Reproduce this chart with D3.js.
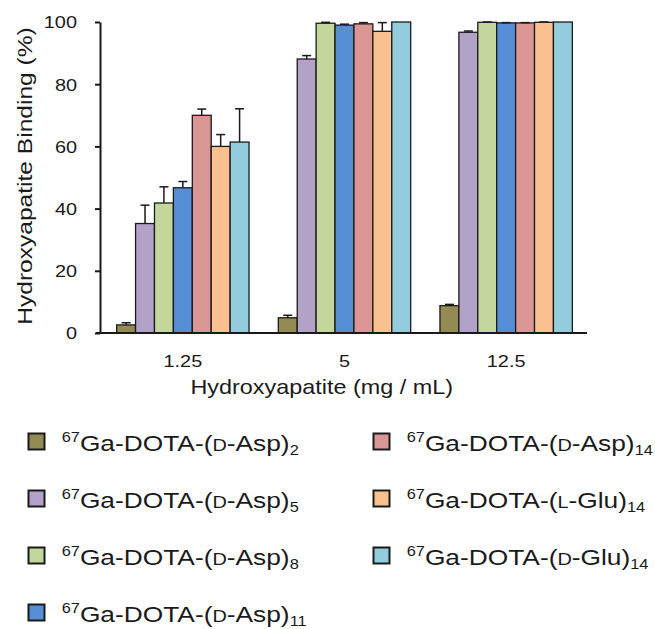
<!DOCTYPE html>
<html>
<head>
<meta charset="utf-8">
<script src="https://cdn.jsdelivr.net/npm/d3@7/dist/d3.min.js"></script>
<style>
  html, body { margin: 0; padding: 0; background: #fff; }
  svg { display: block; font-family: "Liberation Sans", Arial, sans-serif; }
</style>
</head>
<body>
<svg id="chart" width="655" height="629"></svg>
<script>
// ---- data ----
const categories = ["1.25", "5", "12.5"];
const seriesChirality = ["D", "D", "D", "D", "D", "L", "D"];
const seriesResidue = ["Asp", "Asp", "Asp", "Asp", "Asp", "Glu", "Glu"];
const seriesCount = ["2", "5", "8", "11", "14", "14", "14"];
const seriesColors = ["#948A54", "#B3A2C7", "#C3D69B", "#558ED5", "#D99694", "#FAC090", "#93CDDD"];
// values per series, across categories [1.25, 5, 12.5]
const values = [
  [2.6, 4.9, 8.8],
  [35.2, 88.1, 96.7],
  [41.8, 99.6, 99.9],
  [46.7, 99.0, 99.7],
  [70.0, 99.4, 99.7],
  [60.0, 97.0, 99.9],
  [61.4, 100, 100]
];
const errors = [
  [0.7, 0.8, 0.4],
  [5.9, 1.1, 0.4],
  [5.2, 0.3, 0.1],
  [2.0, 0.3, 0.1],
  [2.0, 0.4, 0.1],
  [3.8, 2.8, 0.1],
  [10.7, 0, 0]
];
const yTicks = [0, 20, 40, 60, 80, 100];
const yTitle = "Hydroxyapatite Binding (%)";
const xTitle = "Hydroxyapatite (mg / mL)";

// ---- setup ----
const svg = d3.select("#chart");
const SX = 1.17; // horizontal text stretch
const ink = "#1a1a1a";

const y = d3.scaleLinear().domain([0, 100]).range([333, 22]);
const x0 = d3.scaleBand().domain(categories).range([100, 589])
  .paddingInner(0.181).paddingOuter(0.103);
const seriesIdx = d3.range(values.length);
const x1 = d3.scaleBand().domain(seriesIdx).range([0, x0.bandwidth()]).padding(0);

// bars
const rows = [];
seriesIdx.forEach(s => categories.forEach((c, ci) => {
  rows.push({ s, c, v: values[s][ci], e: errors[s][ci] });
}));

const gBars = svg.append("g");
gBars.selectAll("rect").data(rows).join("rect")
  .attr("x", d => x0(d.c) + x1(d.s))
  .attr("y", d => y(d.v))
  .attr("width", x1.bandwidth())
  .attr("height", d => y(0) - y(d.v))
  .attr("fill", d => seriesColors[d.s])
  .attr("stroke", ink)
  .attr("stroke-width", 1.3);

// error bars (upper only)
const gErr = svg.append("g").attr("stroke", ink).attr("stroke-width", 1.5);
const errRows = rows.filter(d => d.e > 0);
gErr.selectAll("line.v").data(errRows).join("line").attr("class", "v")
  .attr("x1", d => x0(d.c) + x1(d.s) + x1.bandwidth() / 2)
  .attr("x2", d => x0(d.c) + x1(d.s) + x1.bandwidth() / 2)
  .attr("y1", d => y(d.v))
  .attr("y2", d => y(d.v + d.e));
gErr.selectAll("line.c").data(errRows).join("line").attr("class", "c")
  .attr("x1", d => x0(d.c) + x1(d.s) + x1.bandwidth() / 2 - 4.5)
  .attr("x2", d => x0(d.c) + x1(d.s) + x1.bandwidth() / 2 + 4.5)
  .attr("y1", d => y(d.v + d.e))
  .attr("y2", d => y(d.v + d.e));

// y axis
const yAxis = svg.append("g").attr("transform", "translate(100,0)")
  .call(d3.axisLeft(y).tickValues(yTicks).tickSize(5).tickSizeOuter(0));
yAxis.select(".domain").attr("stroke", ink).attr("stroke-width", 2);
yAxis.selectAll(".tick line").attr("stroke", ink).attr("stroke-width", 2);
yAxis.selectAll(".tick text")
  .attr("x", null).attr("dy", "0.35em")
  .attr("transform", "translate(-23,0) scale(" + SX + ",1)")
  .attr("font-size", 17).attr("fill", ink)
  .attr("font-family", "Liberation Sans, Arial, sans-serif");

// x axis
const xAxis = svg.append("g").attr("transform", "translate(0," + y(0) + ")")
  .call(d3.axisBottom(x0).tickSize(0).tickSizeOuter(0));
xAxis.select(".domain").attr("stroke", ink).attr("stroke-width", 2)
  .attr("d", "M96,0H587");
xAxis.selectAll(".tick text")
  .attr("y", null).attr("dy", null)
  .attr("transform", "translate(0,33.5) scale(" + SX + ",1)")
  .attr("font-size", 17).attr("fill", ink)
  .attr("font-family", "Liberation Sans, Arial, sans-serif");

// axis titles
svg.append("text")
  .attr("transform", "translate(31.5,176) rotate(-90) scale(" + SX + ",1)")
  .attr("text-anchor", "middle").attr("font-size", 21).attr("fill", ink)
  .text(yTitle);
svg.append("text")
  .attr("transform", "translate(321.7,394) scale(" + SX + ",1)")
  .attr("text-anchor", "middle").attr("font-size", 20).attr("fill", ink)
  .text(xTitle);

// legend
const legendPos = seriesIdx.map(s => s < 4 ? { x: 28.5, row: s } : { x: 373.5, row: s - 4 });
const gLeg = svg.append("g");
seriesIdx.forEach(s => {
  const p = legendPos[s];
  const cy = 441.5 + p.row * 57;
  gLeg.append("rect")
    .attr("x", p.x).attr("y", cy - 8).attr("width", 16).attr("height", 16)
    .attr("fill", seriesColors[s]).attr("stroke", ink).attr("stroke-width", 2);
  const t = gLeg.append("text")
    .attr("transform", "translate(" + (p.x + 33.2) + "," + (cy + 9.5) + ") scale(" + SX + ",1)")
    .attr("font-size", 22.5).attr("fill", ink);
  t.append("tspan").attr("font-size", 14).attr("dy", -9.3).text("67");
  t.append("tspan").attr("dy", 9.3).text("Ga-DOTA-(");
  t.append("tspan").attr("font-size", 17).text(seriesChirality[s]);
  t.append("tspan").text("-" + seriesResidue[s] + ")");
  t.append("tspan").attr("font-size", 14).attr("dy", 4.3).text(seriesCount[s]);
});
</script>
</body>
</html>
